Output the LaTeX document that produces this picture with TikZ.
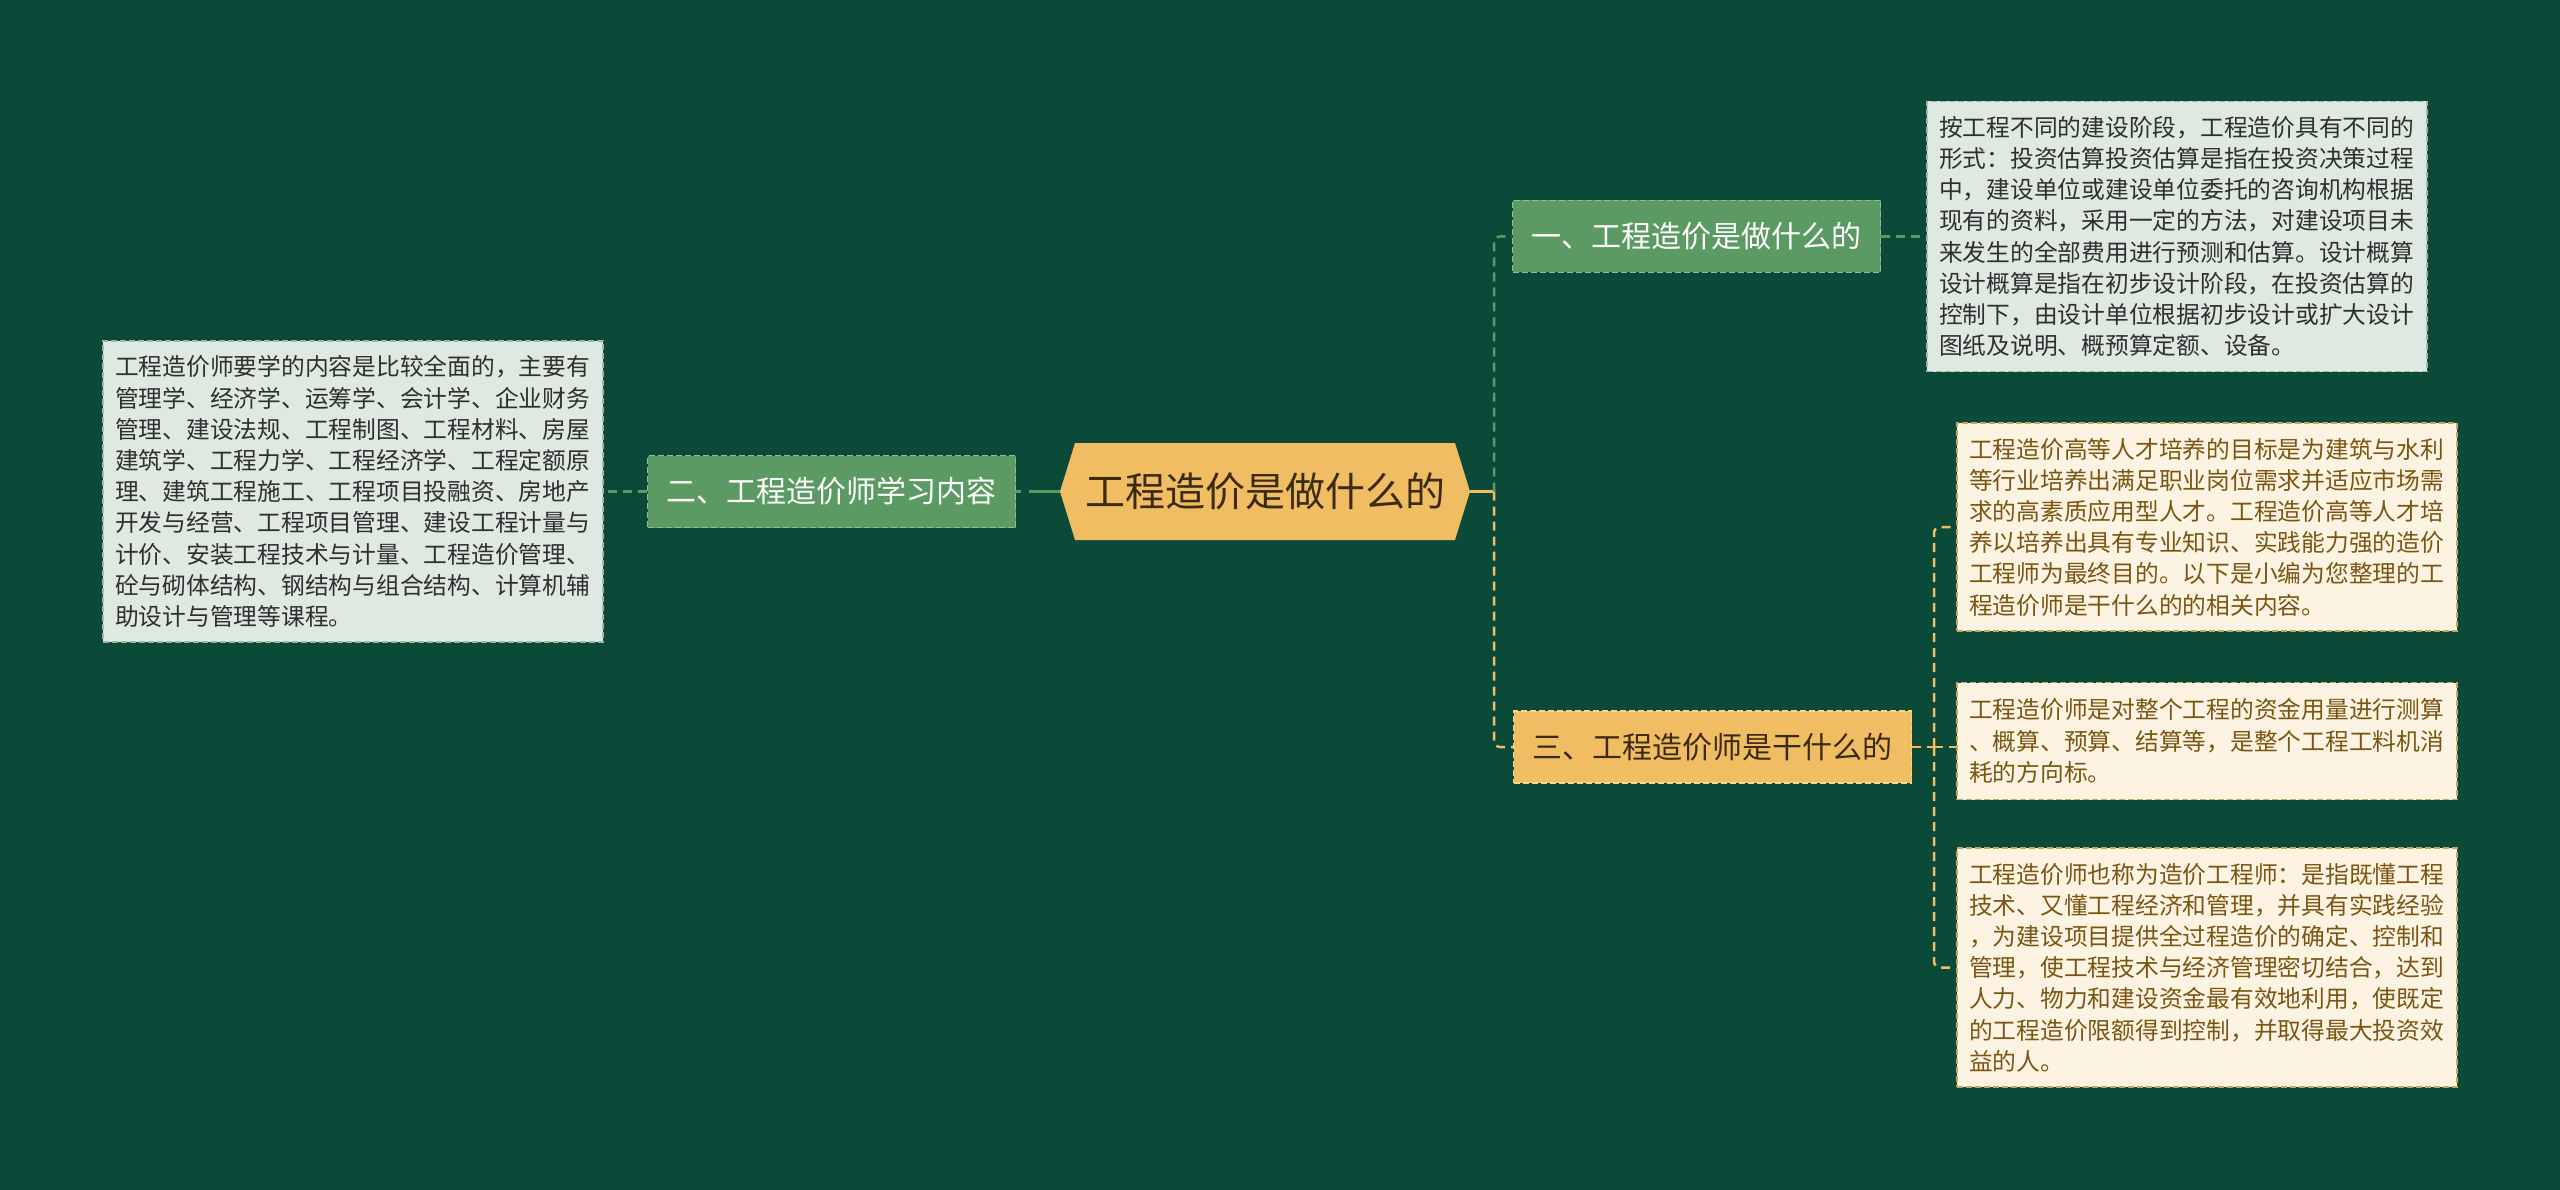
\documentclass[tikz,border=0pt]{standalone}
\usepackage{fontspec}
\setmainfont{Noto Sans CJK SC}
\usepackage{xcolor}
\definecolor{bgcolor}{HTML}{0B4A39}
\definecolor{greenfill}{HTML}{5B9A63}
\definecolor{greenborder}{HTML}{8DBF95}
\definecolor{orangefill}{HTML}{F0BD63}
\definecolor{orangeborder}{HTML}{F8D592}
\definecolor{palefill}{HTML}{DEE9E1}
\definecolor{paleborder}{HTML}{9FB8A6}
\definecolor{creamfill}{HTML}{FDF3E3}
\definecolor{creamborder}{HTML}{C9A45C}
\definecolor{darktext}{HTML}{2F2F2F}
\definecolor{browntext}{HTML}{7B5613}
\definecolor{roottext}{HTML}{3A2B12}
\usepackage{tikz}
\usetikzlibrary{positioning,calc}
\tikzset{
    rootnode/.style={
        rectangle,
        inner sep=0pt,
        minimum width=410pt,
        minimum height=97pt,
        text=roottext,
        font=\fontsize{40pt}{48pt}\selectfont,
    },
    rootshape/.style={
        fill=orangefill,
    },
    topic/.style={
        rectangle,
        inner xsep=19pt,
        inner ysep=0pt,
        minimum height=72pt,
        align=center,
        line width=1.5pt,
        dash pattern=on 6pt off 3pt,
        font=\fontsize{30pt}{36pt}\selectfont,
    },
    greentopic/.style={
        topic,
        draw=greenborder,
        fill=greenfill,
        text=white,
    },
    orangetopic/.style={
        topic,
        draw=orangeborder,
        fill=orangefill,
        text=roottext,
    },
    note/.style={
        rectangle,
        inner xsep=12pt,
        inner ysep=0pt,
        text width=476pt,
        align=left,
        line width=1.5pt,
        dash pattern=on 6pt off 3pt,
        font=\fontsize{23.75pt}{31.2pt}\selectfont,
    },
    palenote/.style={
        note,
        draw=paleborder,
        fill=palefill,
        text=darktext,
    },
    creamnote/.style={
        note,
        draw=creamborder,
        fill=creamfill,
        text=browntext,
    },
    greenlink/.style={
        line width=2.5pt,
        greenfill,
    },
    orangelink/.style={
        line width=2.5pt,
        orangefill,
    },
    greenbranch/.style={
        greenlink,
        dash pattern=on 9pt off 6pt,
        rounded corners=6pt,
    },
    orangebranch/.style={
        orangelink,
        dash pattern=on 9pt off 6pt,
        rounded corners=6pt,
    },
}

\begin{document}
\begin{tikzpicture}[x=1pt,y=-1pt]
    \fill[bgcolor] (0,0) rectangle (2560,1190);
    \useasboundingbox (0,0) rectangle (2560,1190);

    \fill[rootshape] (1060,491.5) -- (1075,443) -- (1455,443) -- (1470,491.5)
        -- (1455,540) -- (1075,540) -- cycle;
    \node[rootnode] (root) at (1265,491.5) {工程造价是做什么的};

    \node[greentopic] (study) at (831.5,491.5) {二、工程造价师学习内容};
    \node[greentopic] (what) at (1696.5,236.5) {一、工程造价是做什么的};
    \node[orangetopic] (job) at (1712.5,747) {三、工程造价师是干什么的};

    \node[palenote, minimum height=301pt] (studynote) at (353,491.5) {工程造价师要学的内容是比较全面的，主要有\\管理学、经济学、运筹学、会计学、企业财务\\管理、建设法规、工程制图、工程材料、房屋\\建筑学、工程力学、工程经济学、工程定额原\\理、建筑工程施工、工程项目投融资、房地产\\开发与经营、工程项目管理、建设工程计量与\\计价、安装工程技术与计量、工程造价管理、\\砼与砌体结构、钢结构与组合结构、计算机辅\\助设计与管理等课程。};
    \node[palenote, minimum height=270pt] (whatnote) at (2177,236.5) {按工程不同的建设阶段，工程造价具有不同的\\形式：投资估算投资估算是指在投资决策过程\\中，建设单位或建设单位委托的咨询机构根据\\现有的资料，采用一定的方法，对建设项目未\\来发生的全部费用进行预测和估算。设计概算\\设计概算是指在初步设计阶段，在投资估算的\\控制下，由设计单位根据初步设计或扩大设计\\图纸及说明、概预算定额、设备。};
    \node[creamnote, minimum height=208pt] (goalnote) at (2207,527) {工程造价高等人才培养的目标是为建筑与水利\\等行业培养出满足职业岗位需求并适应市场需\\求的高素质应用型人才。工程造价高等人才培\\养以培养出具有专业知识、实践能力强的造价\\工程师为最终目的。以下是小编为您整理的工\\程造价师是干什么的的相关内容。};
    \node[creamnote, minimum height=117pt] (costnote) at (2207,741) {工程造价师是对整个工程的资金用量进行测算\\、概算、预算、结算等，是整个工程工料机消\\耗的方向标。};
    \node[creamnote, minimum height=239pt] (rolenote) at (2207,967.5) {工程造价师也称为造价工程师：是指既懂工程\\技术、又懂工程经济和管理，并具有实践经验\\，为建设项目提供全过程造价的确定、控制和\\管理，使工程技术与经济管理密切结合，达到\\人力、物力和建设资金最有效地利用，使既定\\的工程造价限额得到控制，并取得最大投资效\\益的人。};

    \coordinate (rightfork) at (1494,491.5);
    \coordinate (jobfork) at (1934,747);

    \draw[orangelink] (root.east) -- (rightfork);
    \draw[greenbranch] (rightfork) |- (what.west);
    \draw[orangebranch] (rightfork) |- (job.west);
    \draw[greenlink, dash pattern=on 31pt off 8pt] (root.west) -- (study.east);
    \draw[greenbranch] (study.west) -- (studynote.east);
    \draw[greenbranch] (what.east) -- (whatnote.west);
    \draw[orangebranch] (job.east) -- (jobfork);
    \draw[orangebranch] (jobfork) |- (goalnote.west);
    \draw[orangebranch] (jobfork) -- (costnote.west |- jobfork);
    \draw[orangebranch] (jobfork) |- (rolenote.west);
\end{tikzpicture}
\end{document}
